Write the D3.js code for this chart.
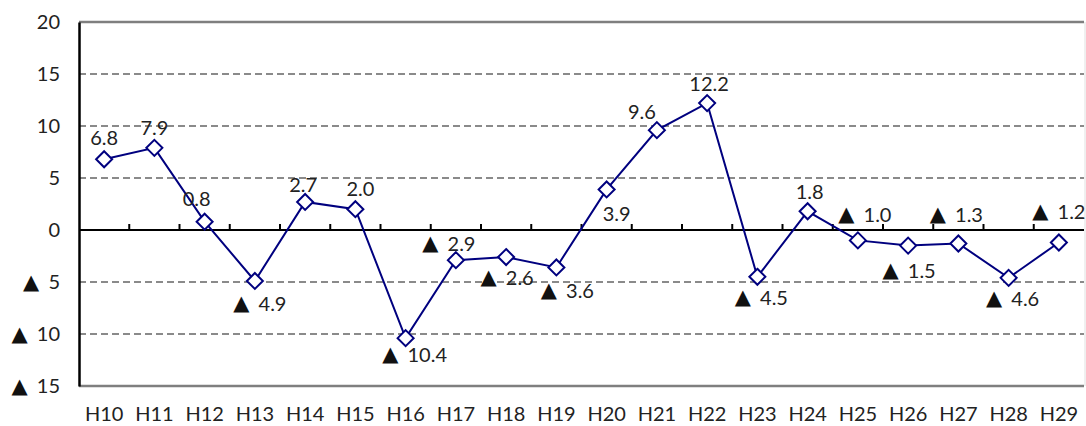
<!DOCTYPE html>
<html>
<head>
<meta charset="utf-8">
<script src="https://cdn.jsdelivr.net/npm/d3@7"></script>
<style>
  html, body { margin: 0; padding: 0; background: #fff; }
  svg { display: block; }
  text { font-family: "Lato", "DejaVu Sans", sans-serif; fill: #222; }
  .tri { font-family: "DejaVu Sans", sans-serif; font-size: 21px; fill: #111; }
</style>
</head>
<body>
<svg id="chart" width="1086" height="426"></svg>
<script>
// Fiscal years (Heisei) and year-on-year change (%)
const years = ["H10","H11","H12","H13","H14","H15","H16","H17","H18","H19",
               "H20","H21","H22","H23","H24","H25","H26","H27","H28","H29"];
const changes = [6.8, 7.9, 0.8, -4.9, 2.7, 2.0, -10.4, -2.9, -2.6, -3.6,
                 3.9, 9.6, 12.2, -4.5, 1.8, -1.0, -1.5, -1.3, -4.6, -1.2];
const yTicks = [-15, -10, -5, 0, 5, 10, 15, 20];

// Label placement relative to each point [dx, dy] (layout only)
const labelOffsets = [
  [0, -22], [0, -21], [-8, -24], [5, 22], [-2, -18], [5, -21], [9, 16],
  [-7, -17], [1, 20], [11, 23], [10, 24], [-15, -19], [2, -20], [4, 20],
  [2, -20], [7, -26], [1, 24], [-2, -30], [4, 20], [0, -31]
];

// Negative values are written as ▲ followed by the magnitude
function writeValue(textSel, v, digits) {
  const num = digits == null ? String(Math.abs(v)) : Math.abs(v).toFixed(digits);
  if (v < 0) {
    textSel.append("tspan").attr("class", "tri").text("▲");
    textSel.append("tspan").attr("dx", 4).text(" " + num);
  } else {
    textSel.append("tspan").text(num);
  }
}

const svg = d3.select("#chart");
const plot = { left: 79, right: 1084, top: 22, bottom: 386 };

const x = d3.scaleBand().domain(years).range([plot.left, plot.right]);
const y = d3.scaleLinear().domain([-15, 20]).range([plot.bottom, plot.top]);

// Dashed grid lines
svg.append("g")
  .selectAll("line")
  .data(yTicks.filter(t => t !== 0 && t !== -15 && t !== 20))
  .join("line")
  .attr("x1", plot.left).attr("x2", plot.right)
  .attr("y1", d => y(d)).attr("y2", d => y(d))
  .attr("stroke", "#8a8a8a").attr("stroke-width", 2)
  .attr("stroke-dasharray", "7,4");

// Plot frame: top, bottom and right edges
svg.append("line").attr("x1", plot.left).attr("x2", plot.right)
  .attr("y1", y(20)).attr("y2", y(20))
  .attr("stroke", "#7f7f7f").attr("stroke-width", 2.5);
svg.append("line").attr("x1", plot.left).attr("x2", plot.right)
  .attr("y1", y(-15)).attr("y2", y(-15))
  .attr("stroke", "#7f7f7f").attr("stroke-width", 2.5);
svg.append("line").attr("x1", plot.right + 1).attr("x2", plot.right + 1)
  .attr("y1", y(20)).attr("y2", y(-15))
  .attr("stroke", "#e0e0e0").attr("stroke-width", 1);

// Zero line with category ticks
const xAxis = d3.axisTop(x).tickSize(6).tickFormat("");
const gx = svg.append("g").attr("transform", `translate(0,${y(0)})`).call(xAxis);
gx.select(".domain").remove();
gx.selectAll(".tick line")
  .attr("transform", `translate(${x.bandwidth() / 2},0)`)
  .attr("stroke", "#000").attr("stroke-width", 2);
gx.selectAll(".tick").filter((d, i) => i === years.length - 1).remove();
svg.append("line").attr("x1", plot.left).attr("x2", plot.right)
  .attr("y1", y(0)).attr("y2", y(0))
  .attr("stroke", "#000").attr("stroke-width", 2);

// Left value axis
const yAxis = d3.axisLeft(y).tickValues(yTicks).tickSize(0).tickPadding(19).tickFormat("");
const gy = svg.append("g").attr("transform", `translate(${plot.left},0)`).call(yAxis);
gy.select(".domain").attr("stroke", "#000").attr("stroke-width", 2.5);
gy.selectAll(".tick text")
  .style("font-size", "20px")
  .attr("fill", "#222")
  .each(function(d) { writeValue(d3.select(this), d, null); });

// Category labels along the bottom
svg.append("g")
  .selectAll("text")
  .data(years)
  .join("text")
  .attr("x", d => x(d) + x.bandwidth() / 2)
  .attr("y", 421)
  .attr("text-anchor", "middle")
  .style("font-size", "20px")
  .text(d => d);

// Series line
const cx = (d, i) => x(years[i]) + x.bandwidth() / 2;
const line = d3.line().x((d, i) => cx(d, i)).y(d => y(d));
svg.append("path")
  .datum(changes)
  .attr("d", line)
  .attr("fill", "none")
  .attr("stroke", "#00007f")
  .attr("stroke-width", 2);

// Diamond markers
svg.append("g")
  .selectAll("path")
  .data(changes)
  .join("path")
  .attr("transform", (d, i) => `translate(${cx(d, i)},${y(d)})`)
  .attr("d", "M0,-8L8,0L0,8L-8,0Z")
  .attr("fill", "#fff")
  .attr("stroke", "#00007f")
  .attr("stroke-width", 2);

// Value labels
svg.append("g")
  .selectAll("text")
  .data(changes)
  .join("text")
  .attr("x", (d, i) => cx(d, i) + labelOffsets[i][0])
  .attr("y", (d, i) => y(d) + labelOffsets[i][1])
  .attr("text-anchor", "middle")
  .attr("dominant-baseline", "central")
  .style("font-size", "20px")
  .each(function(d) { writeValue(d3.select(this), d, 1); });
</script>
</body>
</html>
